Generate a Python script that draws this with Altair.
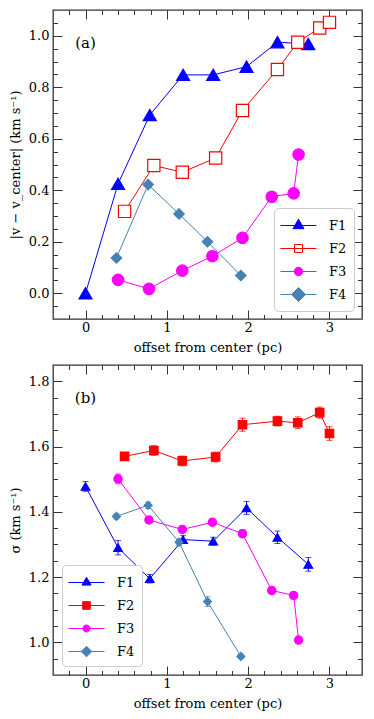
import altair as alt
import pandas as pd

series = ["F1", "F2", "F3", "F4"]
colors = ["#0000ff", "#ff0000", "#ff00ff", "#4682b4"]

# x positions (pc)
f1_x = [0.0, 0.40, 0.79, 1.20, 1.57, 1.98, 2.36, 2.74]
f2_x = [0.48, 0.84, 1.19, 1.60, 1.93, 2.36, 2.61, 2.88, 3.00]
f3_x = [0.40, 0.78, 1.19, 1.56, 1.93, 2.29, 2.56, 2.62]
f4_x = [0.38, 0.77, 1.15, 1.50, 1.91]

# panel (a): |v - v_center|
a_f1 = [0.0, 0.425, 0.692, 0.848, 0.848, 0.88, 0.975, 0.968]
a_f2 = [0.318, 0.496, 0.47, 0.525, 0.71, 0.869, 0.975, 1.03, 1.052]
a_f3 = [0.052, 0.017, 0.088, 0.144, 0.215, 0.375, 0.388, 0.539]
a_f4 = [0.137, 0.422, 0.308, 0.200, 0.069]

# panel (b): sigma and errors
b_f1 = [1.478, 1.290, 1.195, 1.315, 1.310, 1.412, 1.322, 1.239]
b_f1_err = [0.015, 0.022, 0.013, 0.012, 0.012, 0.02, 0.019, 0.021]
b_f2 = [1.570, 1.588, 1.556, 1.568, 1.667, 1.678, 1.673, 1.704, 1.640]
b_f2_err = [0.012, 0.015, 0.015, 0.015, 0.02, 0.015, 0.018, 0.017, 0.021]
b_f3 = [1.501, 1.375, 1.346, 1.368, 1.333, 1.159, 1.144, 1.007]
b_f3_err = [0.015, 0.01, 0.01, 0.01, 0.012, 0.01, 0.008, 0.008]
b_f4 = [1.386, 1.420, 1.307, 1.125, 0.957]
b_f4_err = [0.008, 0.01, 0.01, 0.015, 0.006]

# tick positions (edges excluded: they coincide with the frame)
x_ticks = [round(-0.2 + 0.2 * i, 2) for i in range(18)]
ya_ticks = [round(-0.05 + 0.05 * i, 2) for i in range(23)]
yb_ticks = [round(0.95 + 0.05 * i, 2) for i in range(18)]

FONT = "DejaVu Serif"
xs = [f1_x, f2_x, f3_x, f4_x]


def make_df(vals, errs=None):
    rows = []
    for k, s in enumerate(series):
        for j, (xv, yv) in enumerate(zip(xs[k], vals[k])):
            r = {"series": s, "x": xv, "y": yv}
            if errs is not None:
                r["e"] = errs[k][j]
            rows.append(r)
    return pd.DataFrame(rows)


df_a = make_df([a_f1, a_f2, a_f3, a_f4])
df_b = make_df([b_f1, b_f2, b_f3, b_f4], [b_f1_err, b_f2_err, b_f3_err, b_f4_err])

X_MAJOR = "abs(datum.value - round(datum.value)) < 0.001"
Y_MAJOR = "abs(datum.value * 5 - round(datum.value * 5)) < 0.001"


def tick_size(test):
    return {"expr": f"{test} ? -9 : -4.5"}


def legend_paths(tri, sq, cir, dia):
    cx = 0.7
    line = "M-1.1,0H2.5"
    h = tri * 1.732
    t = f"M{cx:.3f},{-2*h/3:.3f}L{cx+tri:.3f},{h/3:.3f}L{cx-tri:.3f},{h/3:.3f}Z"
    s = f"M{cx-sq:.3f},{-sq:.3f}H{cx+sq:.3f}V{sq:.3f}H{cx-sq:.3f}Z"
    c = (f"M{cx-cir:.3f},0A{cir:.3f},{cir:.3f} 0 1,0 {cx+cir:.3f},0"
         f"A{cir:.3f},{cir:.3f} 0 1,0 {cx-cir:.3f},0Z")
    d = f"M{cx:.3f},{-dia:.3f}L{cx+dia:.3f},0L{cx:.3f},{dia:.3f}L{cx-dia:.3f},0Z"
    return [line + t, line + s, line + c, line + d]


def panel(df, ydom, yticks, ytitle, label, label_y, fills, sizes, paths,
          legend_orient, legend_offset, with_err):
    xscale = alt.Scale(domain=[-0.4, 3.4], nice=False, zero=False)
    yscale = alt.Scale(domain=ydom, nice=False, zero=False)
    color = alt.Color("series:N", scale=alt.Scale(domain=series, range=colors), legend=None)

    x_bottom = alt.Axis(values=x_ticks, labelExpr=f"{X_MAJOR} ? format(datum.value, 'd') : ''",
                        tickSize=tick_size(X_MAJOR), labelPadding=11, title="offset from center (pc)",
                        titlePadding=3)
    x_top = alt.Axis(orient="top", values=x_ticks, labels=False, tickSize=tick_size(X_MAJOR), title=None)
    y_left = alt.Axis(values=yticks, labelExpr=f"{Y_MAJOR} ? format(datum.value, '.1f') : ''",
                      tickSize=tick_size(Y_MAJOR), labelPadding=13, title=ytitle, titlePadding=6)
    y_right = alt.Axis(orient="right", values=yticks, labels=False, tickSize=tick_size(Y_MAJOR), title=None)

    lines = alt.Chart(df).mark_line(strokeWidth=1).encode(
        x=alt.X("x:Q", scale=xscale, axis=x_bottom),
        y=alt.Y("y:Q", scale=yscale, axis=y_left),
        color=color,
    )
    layers = [lines]
    if with_err:
        err = alt.Chart(df).transform_calculate(
            lo="datum.y - datum.e", hi="datum.y + datum.e"
        ).mark_errorbar(ticks={"size": 6, "thickness": 1}, thickness=1).encode(
            x=alt.X("x:Q", scale=xscale, axis=None),
            y=alt.Y("lo:Q", scale=yscale, axis=None),
            y2="hi:Q",
            color=color,
        )
        layers.append(err)
    points = alt.Chart(df).mark_point(filled=True, opacity=1, strokeWidth=1.2).encode(
        x=alt.X("x:Q", scale=xscale, axis=x_top),
        y=alt.Y("y:Q", scale=yscale, axis=y_right),
        shape=alt.Shape("series:N", scale=alt.Scale(domain=series,
                        range=["triangle-up", "square", "circle", "diamond"]), legend=None),
        fill=alt.Fill("series:N", scale=alt.Scale(domain=series, range=fills), legend=None),
        stroke=alt.Stroke("series:N", scale=alt.Scale(domain=series, range=colors), legend=None),
        size=alt.Size("series:N", scale=alt.Scale(domain=series, range=sizes), legend=None),
    )
    layers.append(points)

    lab = pd.DataFrame({"t": [label], "lx": [0.0], "ly": [label_y]})
    text = alt.Chart(lab).mark_text(font=FONT, fontSize=15, color="black").encode(
        x=alt.X("lx:Q", scale=xscale, axis=None),
        y=alt.Y("ly:Q", scale=yscale, axis=None),
        text="t:N",
    )
    layers.append(text)

    leg = alt.Legend(title=None, orient=legend_orient, offset=legend_offset, padding=7,
                     rowPadding=5, symbolSize=400, symbolStrokeWidth=1, labelOffset=27,
                     labelFont=FONT, labelFontSize=13, labelColor="black",
                     fillColor="white", strokeColor="#cccccc", cornerRadius=4)
    dummy = alt.Chart(df).transform_filter("false").mark_point(
        filled=True, opacity=1, size=400, strokeWidth=1).encode(
        shape=alt.Shape("series:N", scale=alt.Scale(domain=series, range=paths), legend=leg),
        fill=alt.Fill("series:N", scale=alt.Scale(domain=series, range=fills), legend=leg),
        stroke=alt.Stroke("series:N", scale=alt.Scale(domain=series, range=colors), legend=leg),
    )
    layers.append(dummy)

    return alt.layer(*layers).resolve_axis(x="independent", y="independent").resolve_scale(
        color="independent", fill="independent", stroke="independent",
        shape="independent", size="independent",
    )


pa = panel(df_a, [-0.1, 1.1], ya_ticks, "|v − v_center| (km s⁻¹)", "(a)", 0.972,
           [colors[0], "#ffffff", colors[2], colors[3]], [169, 110, 130, 200],
           legend_paths(0.55, 0.4, 0.42, 0.7), "bottom-right", 8, False).properties(width=309, height=309)
pb = panel(df_b, [0.9, 1.85], yb_ticks, "σ (km s⁻¹)", "(b)", 1.749,
           colors, [75, 64, 64, 110],
           legend_paths(0.45, 0.38, 0.35, 0.53), "bottom-left", 9, True).properties(width=309, height=310)

chart = alt.vconcat(pa, pb, spacing=7).properties(
    padding={"left": 0, "top": 0, "right": 0, "bottom": 0}
).configure_view(stroke="#333333", strokeWidth=1.3).configure_axis(
    grid=False, domain=False, tickColor="#333333", tickWidth=1,
    labelFont=FONT, labelFontSize=13, labelColor="black", labelOverlap=False, labelFlush=False,
    titleFont=FONT, titleFontSize=13, titleFontWeight="normal", titleColor="black",
)

chart.save("out.html", embed_options={"renderer": "svg", "actions": False})
